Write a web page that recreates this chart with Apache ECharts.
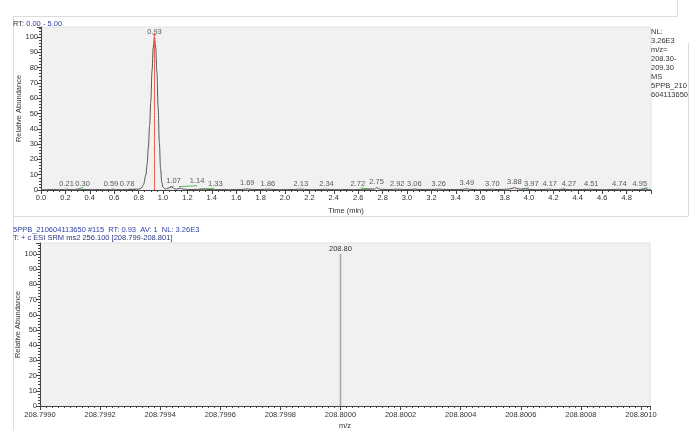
<!DOCTYPE html>
<html><head><meta charset="utf-8">
<script src="https://cdn.jsdelivr.net/npm/echarts@6/dist/echarts.min.js"></script>
<style>html,body{margin:0;padding:0;background:#fff}#c{width:699px;height:439px}</style>
</head><body><div id="c"></div>
<script>
// ---- Chromatogram (top) ----
const rtTimes = [0.00,0.05,0.10,0.15,0.19,0.21,0.23,0.27,0.30,0.33,0.37,0.42,0.48,0.53,0.57,0.59,0.61,0.66,0.71,0.76,0.78,0.80,
 0.82,0.84,0.86,0.87,0.88,0.89,0.90,0.91,0.92,0.93,0.94,0.95,0.96,0.97,0.98,0.99,1.00,1.02,1.04,1.07,1.09,1.11,1.14,1.16,1.19,
 1.23,1.28,1.33,1.36,1.42,1.48,1.54,1.60,1.66,1.69,1.72,1.78,1.83,1.86,1.89,1.95,2.02,2.08,2.13,2.16,2.22,2.28,2.34,2.37,2.44,
 2.50,2.56,2.62,2.68,2.72,2.735,2.75,2.78,2.84,2.89,2.92,2.95,3.00,3.03,3.06,3.09,3.14,3.20,3.23,3.26,3.29,3.36,3.42,3.46,3.49,
 3.52,3.58,3.64,3.70,3.73,3.79,3.84,3.88,3.91,3.94,3.97,4.00,4.06,4.12,4.17,4.20,4.24,4.27,4.30,4.36,4.44,4.51,4.54,4.60,4.67,
 4.74,4.77,4.84,4.90,4.95,4.98,5.00];
const rtAbund = [0.3,0.2,0.3,0.2,0.3,0.6,0.3,0.2,0.6,0.4,0.3,0.2,0.3,0.2,0.3,0.6,0.3,0.2,0.3,0.4,0.6,0.5,
 1.2,3.5,10,17,28,42,58,78,93,100,93,77,54,31,14,5,1.8,0.6,1.2,2.2,0.9,0.5,1.3,0.7,0.4,
 0.3,0.4,0.6,0.4,0.2,0.3,0.2,0.3,0.4,0.8,0.4,0.3,0.4,0.6,0.4,0.2,0.3,0.3,0.6,0.4,0.2,0.3,0.5,0.3,0.2,
 0.3,0.2,0.4,0.5,0.7,0.5,1.5,0.5,0.3,0.4,0.6,0.4,0.3,0.4,0.6,0.4,0.3,0.4,0.4,0.6,0.4,0.3,0.3,0.4,0.8,
 0.4,0.2,0.3,0.5,0.3,0.4,0.7,1.5,0.8,0.5,0.7,0.4,0.2,0.3,0.6,0.3,0.3,0.5,0.3,0.2,0.3,0.5,0.3,0.2,0.3,
 0.5,0.3,0.2,0.3,0.6,0.4,0.3];
const peakTimes = [0.21,0.30,0.59,0.78,0.93,1.07,1.14,1.33,1.69,1.86,2.13,2.34,2.72,2.75,2.92,3.06,3.26,3.49,3.70,3.88,3.97,4.17,4.27,4.51,4.74,4.95];
const peakAbund = [0.6,0.6,0.6,0.6,100,2.4,2.4,0.4,0.9,0.6,0.6,0.4,0.6,1.6,0.6,0.6,0.6,0.8,0.6,1.6,0.6,0.6,0.4,0.6,0.6,0.6];
// integration baselines (green), pairs of [t, abundance]
const baseSegs = [
 [[0.29,0.0],[0.345,1.8]],
 [[0.72,0.6],[0.78,0.4]],
 [[1.05,1.2],[1.09,2.6]],
 [[1.13,2.2],[1.28,2.8]],
 [[1.30,0.6],[1.42,1.0]],
 [[2.62,1.4],[2.72,0.2]],
 [[3.94,0.6],[4.00,1.4]],
 [[4.26,0.2],[4.30,1.0]],
 [[4.92,0.4],[4.97,1.6]]
];
const xTicksTop = {min:0, max:5, interval:0.2};
const yTicks = {min:0, max:100, interval:10};

// ---- Spectrum (bottom) ----
const mzValues = [208.8000];
const mzAbund = [100];
const mzAxis = {min:208.7990, max:208.80103, interval:0.0002};

const rightInfo = ['NL:','3.26E3','m/z=','208.30-','209.30','MS','5PPB_210','604113650'];

// label nudges (px) to mimic the instrument's label de-collision
const labelNudge = {'0.30':5,'0.59':-2,'0.78':-9,'1.07':2,'1.14':17,'1.33':12,'2.72':-15,'3.97':6,'4.27':7,'4.95':-5};

const FONT = '"Liberation Sans",Arial,sans-serif';
const FS = 7.5;
const TXT = '#333';
const axisCommon = {
  nameMoveOverlap:false,
  axisLine:{show:true, onZero:false, lineStyle:{color:'#444', width:1}},
  axisTick:{show:true, length:4, lineStyle:{color:'#444'}},
  minorTick:{show:true, length:2, lineStyle:{color:'#444'}},
  splitLine:{show:false},
  axisLabel:{fontFamily:FONT, fontSize:FS, color:TXT, margin:3, showMaxLabel:false},
  nameTextStyle:{fontFamily:FONT, fontSize:FS, color:TXT}
};
function ax(extra){ return echarts.util.merge(echarts.util.clone(axisCommon), extra, true); }

const chart = echarts.init(document.getElementById('c'), null, {renderer:'canvas'});

const series = [];
series.push({type:'line', xAxisIndex:0, yAxisIndex:0, data: rtTimes.map((t,i)=>[t, rtAbund[i]]),
  symbol:'none', smooth:0.35, smoothMonotone:'x', lineStyle:{color:'#555', width:1}, z:3, silent:true, animation:false});
baseSegs.forEach(seg => series.push({type:'line', xAxisIndex:0, yAxisIndex:0, data:seg, symbol:'none',
  lineStyle:{color:'#5cb85c', width:1}, z:2, silent:true, animation:false}));
// red apex marker line
series.push({type:'line', xAxisIndex:0, yAxisIndex:0, data:[[peakTimes[4],0],[peakTimes[4],peakAbund[4]]], symbol:'none',
  lineStyle:{color:'#f05a50', width:1}, z:4, silent:true, animation:false});
series.push({type:'scatter', xAxisIndex:0, yAxisIndex:0, data:[[peakTimes[4],peakAbund[4]]], symbol:'triangle', symbolRotate:180,
  symbolSize:[4,3], symbolOffset:[0,-1.5], itemStyle:{color:'#e8453c'}, z:4, silent:true, animation:false});
// peak labels
series.push({type:'scatter', xAxisIndex:0, yAxisIndex:0, symbolSize:0.01, z:5, silent:true, animation:false,
  data: peakTimes.map((t,i)=>[t, peakAbund[i]]),
  label:{show:true, position:'top', distance:1.5, fontFamily:FONT, fontSize:FS, color:TXT,
    formatter:p=>p.value[0].toFixed(2)},
  labelLayout:function(p){ return {dx: labelNudge[peakTimes[p.dataIndex].toFixed(2)]||0, hideOverlap:false}; }
});
// spectrum sticks
series.push({type:'bar', xAxisIndex:1, yAxisIndex:1, data: mzValues.map((m,i)=>[m, mzAbund[i]]), barWidth:1.6,
  itemStyle:{color:'#a9a9a9'}, silent:true, animation:false,
  label:{show:true, position:'top', distance:1.5, fontFamily:FONT, fontSize:FS, color:TXT, formatter:p=>p.value[0].toFixed(2)}});

const graphics = [];
function gline(x1,y1,x2,y2){ graphics.push({type:'line', silent:true, shape:{x1,y1,x2,y2}, style:{stroke:'#dcdcdc', lineWidth:1}}); }
gline(13,16.5,678,16.5); gline(677.5,0,677.5,16.5); gline(13.5,16.5,13.5,430); gline(688.5,43,688.5,216); gline(13,216.5,688,216.5);
graphics.push({type:'text', left:13, top:19.5, silent:true, style:{text:'{a|RT:} {b|0.00 - 5.00}', font:FS+'px '+FONT,
  rich:{a:{fill:'#333', font:FS+'px '+FONT}, b:{fill:'#2f3fa8', font:FS+'px '+FONT}}}});
graphics.push({type:'text', left:651, top:27, silent:true, style:{text:rightInfo.join('\n'), font:FS+'px '+FONT, fill:TXT, lineHeight:9}});
graphics.push({type:'text', left:13, top:225.5, silent:true, style:{text:'5PPB_210604113650 #115  RT: 0.93  AV: 1  NL: 3.26E3', font:FS+'px '+FONT, fill:'#2f3fa8'}});
graphics.push({type:'text', left:13, top:234, silent:true, style:{text:'T: + c ESI SRM ms2 256.100 [208.799-208.801]', font:FS+'px '+FONT, fill:'#2a3580'}});

chart.setOption({
  animation:false,
  grid:[
    {left:41, top:27, width:610, height:163, show:true, backgroundColor:'#f1f1f1', borderColor:'#e2e2e2', borderWidth:1},
    {left:40, top:243, width:610, height:163, show:true, backgroundColor:'#f1f1f1', borderColor:'#e2e2e2', borderWidth:1}
  ],
  xAxis:[
    ax({type:'value', gridIndex:0, min:xTicksTop.min, max:xTicksTop.max, interval:xTicksTop.interval,
      minorTick:{splitNumber:4}, axisLabel:{formatter:v=>v.toFixed(1), margin:4},
      name:'Time (min)', nameLocation:'middle', nameGap:17}),
    ax({type:'value', gridIndex:1, min:mzAxis.min, max:mzAxis.max, interval:mzAxis.interval,
      minorTick:{splitNumber:10}, axisLabel:{formatter:v=>v.toFixed(4), margin:5},
      name:'m/z', nameLocation:'middle', nameGap:16})
  ],
  yAxis:[
    ax({type:'value', gridIndex:0, min:yTicks.min, max:106.5, interval:yTicks.interval, minorTick:{splitNumber:5},
      name:'Relative Abundance', nameLocation:'middle', nameGap:18}),
    ax({type:'value', gridIndex:1, min:yTicks.min, max:107.2, interval:yTicks.interval, minorTick:{splitNumber:5},
      name:'Relative Abundance', nameLocation:'middle', nameGap:18})
  ],
  series: series,
  graphic: graphics
});
</script></body></html>
